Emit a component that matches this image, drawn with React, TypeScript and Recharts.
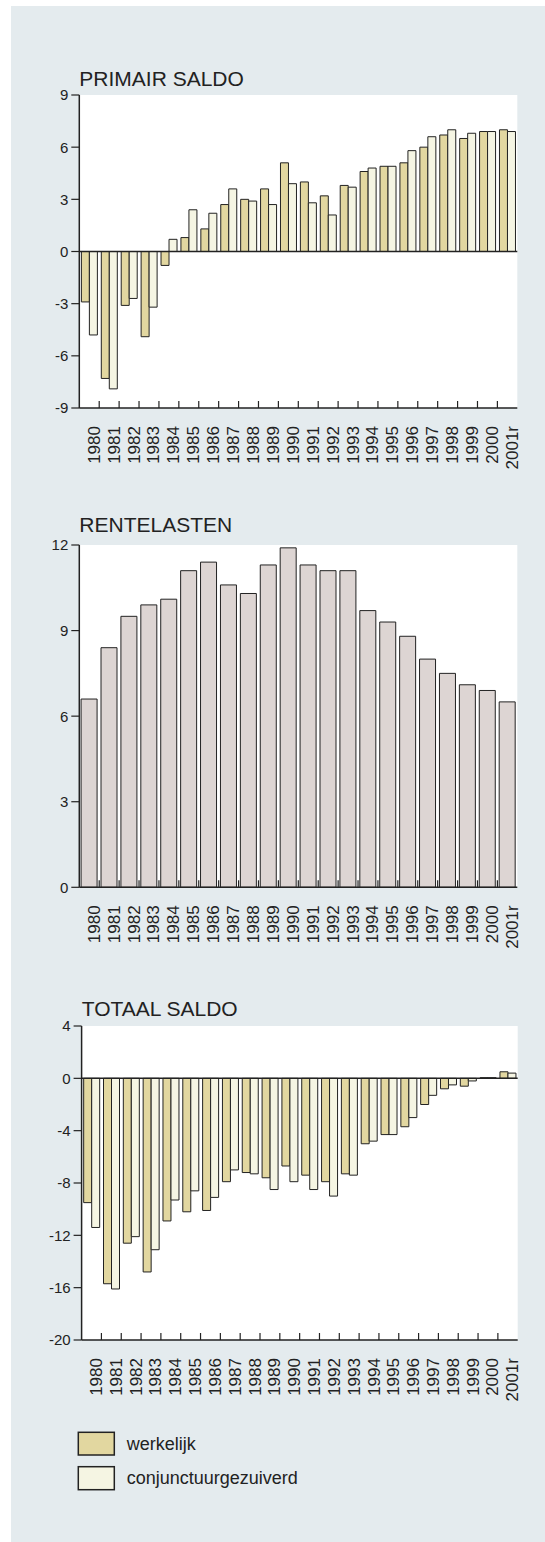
import React from "react";
import {
  BarChart,
  Bar,
  XAxis,
  YAxis,
  CartesianGrid,
  ReferenceLine,
} from "recharts";

const years = [
  "1980", "1981", "1982", "1983", "1984", "1985", "1986", "1987", "1988", "1989", "1990",
  "1991", "1992", "1993", "1994", "1995", "1996", "1997", "1998", "1999", "2000", "2001r",
];

const primairWerkelijk = [-2.9, -7.3, -3.1, -4.9, -0.8, 0.8, 1.3, 2.7, 3.0, 3.6, 5.1, 4.0, 3.2, 3.8, 4.6, 4.9, 5.1, 6.0, 6.7, 6.5, 6.9, 7.0];
const primairConj = [-4.8, -7.9, -2.7, -3.2, 0.7, 2.4, 2.2, 3.6, 2.9, 2.7, 3.9, 2.8, 2.1, 3.7, 4.8, 4.9, 5.8, 6.6, 7.0, 6.8, 6.9, 6.9];
const rentelasten = [6.6, 8.4, 9.5, 9.9, 10.1, 11.1, 11.4, 10.6, 10.3, 11.3, 11.9, 11.3, 11.1, 11.1, 9.7, 9.3, 8.8, 8.0, 7.5, 7.1, 6.9, 6.5];
const totaalWerkelijk = [-9.5, -15.7, -12.6, -14.8, -10.9, -10.2, -10.1, -7.9, -7.2, -7.6, -6.7, -7.4, -7.9, -7.3, -5.0, -4.3, -3.7, -2.0, -0.8, -0.6, 0.05, 0.5];
const totaalConj = [-11.4, -16.1, -12.1, -13.1, -9.3, -8.6, -9.1, -7.0, -7.3, -8.5, -7.9, -8.5, -9.0, -7.4, -4.8, -4.3, -3.0, -1.3, -0.5, -0.2, 0.05, 0.4];

const primairTicks = [-9, -6, -3, 0, 3, 6, 9];
const renteTicks = [0, 3, 6, 9, 12];
const totaalTicks = [-20, -16, -12, -8, -4, 0, 4];

const primairData = years.map((y, i) => ({ year: y, w: primairWerkelijk[i], c: primairConj[i] }));
const renteData = years.map((y, i) => ({ year: y, v: rentelasten[i] }));
const totaalData = years.map((y, i) => ({ year: y, w: totaalWerkelijk[i], c: totaalConj[i] }));

const FONT = "'Liberation Sans', Arial, Helvetica, sans-serif";
const INK = "#222";
const BG = "#e4ebee";
const C_WERK = "#e2d7a0";
const C_CONJ = "#f5f5e3";
const C_RENTE = "#ddd5d3";

const W = 545;
const H = 480;
const X_AXIS_H = 60;
const Y_AXIS_W = 45;

// category labels rotated, plus the small inward tick at each category boundary
function makeXTick(bandWidth: number, axisY: number) {
  return function XTick(props: any) {
    const { x, payload, index } = props;
    const lx = x + 10.5;
    const ly = axisY + 18;
    return (
      <g>
        {index < years.length - 1 && (
          <line x1={x + bandWidth / 2} x2={x + bandWidth / 2} y1={axisY} y2={axisY - 7} stroke={INK} strokeWidth={1.2} />
        )}
        <text
          x={lx}
          y={ly}
          transform={`rotate(-90 ${lx} ${ly})`}
          textAnchor="end"
          fontSize={17}
          fontFamily={FONT}
          fill={INK}
        >
          {payload.value}
        </text>
      </g>
    );
  };
}

function YTick(props: any) {
  const { x, y, payload } = props;
  return (
    <text x={x} y={y} dy="0.36em" textAnchor="end" fontSize={15} fontFamily={FONT} fill={INK}>
      {payload.value}
    </text>
  );
}

interface PanelProps {
  top: number;
  data: any[];
  plotLeft: number;
  plotRight: number;
  marginTop: number;
  marginBottom: number;
  domain: [number, number];
  ticks: number[];
  zeroLine: boolean;
  children: React.ReactNode;
  gap: string;
}

function Panel({ top, data, plotLeft, plotRight, marginTop, marginBottom, domain, ticks, zeroLine, children, gap }: PanelProps) {
  const bandWidth = (plotRight - plotLeft) / years.length;
  const axisY = H - marginBottom - X_AXIS_H;
  return (
    <div style={{ position: "absolute", left: 0, top, width: W, height: H }}>
      <BarChart
        width={W}
        height={H}
        data={data}
        barGap={0}
        barCategoryGap={gap}
        margin={{ top: marginTop, right: W - plotRight, bottom: marginBottom, left: plotLeft - Y_AXIS_W }}
      >
        <CartesianGrid horizontal={false} vertical={false} fill="#ffffff" />
        <XAxis
          dataKey="year"
          interval={0}
          height={X_AXIS_H}
          tickLine={false}
          tickSize={0}
          tickMargin={0}
          axisLine={{ stroke: INK, strokeWidth: 1.5 }}
          tick={makeXTick(bandWidth, axisY)}
        />
        <XAxis xAxisId="top" dataKey="year" orientation="top" height={0} tick={false} tickLine={false} axisLine={{ stroke: "#555", strokeWidth: 1.5 }} />
        <YAxis
          width={Y_AXIS_W}
          domain={domain}
          ticks={ticks}
          interval={0}
          allowDataOverflow
          tickSize={8}
          tickMargin={3}
          axisLine={{ stroke: INK, strokeWidth: 1.5 }}
          tickLine={{ stroke: INK, strokeWidth: 1.2 }}
          tick={YTick}
        />
        <YAxis yAxisId="right" orientation="right" width={0} tick={false} tickLine={false} axisLine={{ stroke: "#444", strokeWidth: 1.5 }} />
        {children}
        {zeroLine && <ReferenceLine y={0} stroke={INK} strokeWidth={1.5} />}
      </BarChart>
    </div>
  );
}

export default function App() {
  return (
    <div style={{ position: "absolute", left: 0, top: 0, width: W, height: 1542, fontFamily: FONT }}>
      <div style={{ position: "absolute", left: 11, top: 6, width: W - 11, height: 1536, background: BG }} />

      <Panel top={0} data={primairData} plotLeft={79.3} plotRight={517.3} marginTop={95} marginBottom={12}
        domain={[-9, 9]} ticks={primairTicks} zeroLine gap="10.5%">
        <Bar dataKey="w" fill={C_WERK} stroke={INK} strokeWidth={1} isAnimationActive={false} />
        <Bar dataKey="c" fill={C_CONJ} stroke={INK} strokeWidth={1} isAnimationActive={false} />
      </Panel>

      <Panel top={480} data={renteData} plotLeft={79.3} plotRight={517.3} marginTop={65} marginBottom={12.7}
        domain={[0, 12]} ticks={renteTicks} zeroLine={false} gap="9%">
        <Bar dataKey="v" fill={C_RENTE} stroke={INK} strokeWidth={1} isAnimationActive={false} />
      </Panel>

      <Panel top={960} data={totaalData} plotLeft={81.6} plotRight={517.7} marginTop={66} marginBottom={40}
        domain={[-20, 4]} ticks={totaalTicks} zeroLine gap="10.5%">
        <Bar dataKey="w" fill={C_WERK} stroke={INK} strokeWidth={1} isAnimationActive={false} />
        <Bar dataKey="c" fill={C_CONJ} stroke={INK} strokeWidth={1} isAnimationActive={false} />
      </Panel>

      <svg width={W} height={1542} style={{ position: "absolute", left: 0, top: 0, pointerEvents: "none" }}>
        <g fontFamily={FONT} fill={INK} fontSize={21}>
          <text x={79.3} y={86}>PRIMAIR SALDO</text>
          <text x={79.3} y={531.7}>RENTELASTEN</text>
          <text x={81.7} y={1016}>TOTAAL SALDO</text>
        </g>
        <rect x={78.3} y={1432.3} width={36} height={22.7} fill={C_WERK} stroke={INK} strokeWidth={1.5} />
        <rect x={78.3} y={1466.7} width={36} height={23} fill={C_CONJ} stroke={INK} strokeWidth={1.5} />
        <g fontFamily={FONT} fill={INK} fontSize={18}>
          <text x={126.7} y={1449.5}>werkelijk</text>
          <text x={126.7} y={1484}>conjunctuurgezuiverd</text>
        </g>
      </svg>
    </div>
  );
}
